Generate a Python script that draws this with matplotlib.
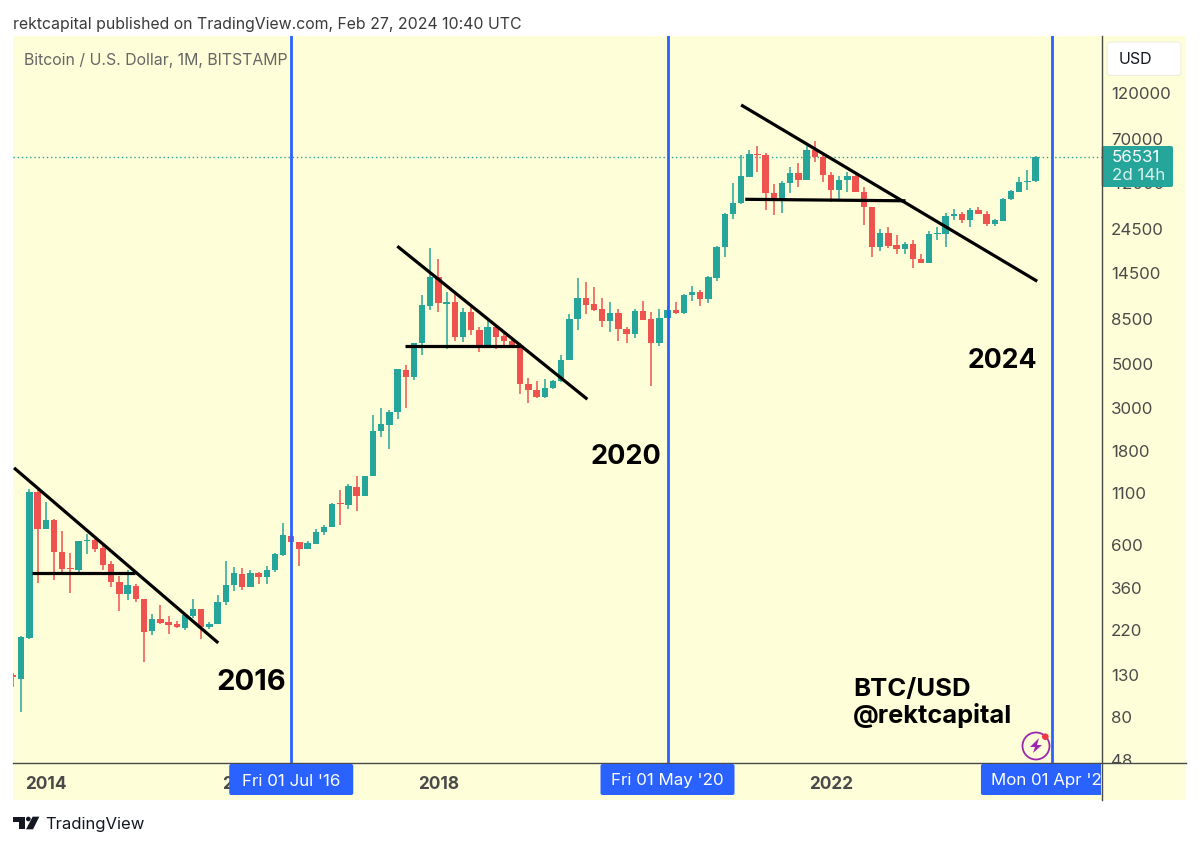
import matplotlib
matplotlib.use("Agg")
import matplotlib.pyplot as plt
from matplotlib.patches import Rectangle, FancyBboxPatch, Circle, Polygon
from matplotlib.lines import Line2D
from matplotlib.transforms import Affine2D, Bbox

# Monthly candles, Sep 2013 .. Feb 2024
first_index = -1
opens = [130,125,202,1118,725,800,550,458,445,630,638,580,478,388,338,372,319,218,252,244,236,226,260,283,229,236,308,376,428,368,433,414,445,530,668,624,570,607,700,742,975,955,1185,1070,1345,2290,2450,2835,4690,4300,6380,9900,13850,10150,10300,6850,9200,7480,6240,7700,6930,6550,6270,3980,3670,3385,3780,4090,5270,8470,10800,10150,9500,8260,9100,7520,7100,9330,8470,6400,8540,9380,9100,11300,11650,10700,13700,19700,28900,33100,45000,59000,58000,37300,34800,41600,47000,43500,61400,56900,45800,38400,43200,45200,37700,31700,19800,23200,20100,19300,20500,17100,16400,23100,23100,28400,29200,27000,30400,29200,25900,26800,34600,37700,42300,42600]
highs = [134,206,1150,1138,995,810,706,547,627,680,645,597,494,418,448,380,319,267,298,262,247,267,317,283,244,335,497,465,460,445,437,470,547,775,693,624,630,723,760,975,1138,1220,1345,1345,2750,2970,2910,4740,4970,6430,11250,19600,17200,11650,11600,9650,9900,7700,8420,7860,7250,6790,6430,4240,4090,4180,4135,5590,9000,13770,13150,12300,10900,10400,9570,7700,9570,10530,9200,9500,9950,10400,11380,12450,11980,14050,19900,29300,41900,58000,61400,64300,59500,41300,42600,50400,52900,66700,68700,59500,47500,45500,47500,47000,39800,31700,24500,25000,22650,20950,21350,18200,23700,25000,29300,30800,29900,31100,31600,30100,27500,35100,38400,44600,48900,57000]
lows = [114,85,200,383,725,398,437,340,426,540,555,445,366,276,316,307,152,209,236,210,227,220,255,198,224,236,297,350,352,366,381,378,437,525,612,470,570,607,677,742,760,918,893,1070,1345,2130,1840,2610,2985,4135,5550,9400,9200,5960,6550,6470,7050,5780,6070,5930,6070,6060,3520,3160,3340,3340,3720,4060,5230,7480,9000,9300,7700,7280,6530,6390,6810,8360,3880,6180,8540,8950,8980,10530,9870,10200,13250,17600,27400,32700,45000,47300,30600,28700,29300,37000,39800,43300,53500,42200,33300,34800,37500,37500,25400,17600,18850,19570,18130,18200,15500,16400,16400,21350,19700,27200,26000,24800,29000,25300,25100,26800,34300,37700,38400,42100]
closes = [128,204,1118,725,800,550,452,450,627,638,575,475,388,338,376,318,216,252,240,235,228,263,283,228,236,308,376,430,366,433,414,448,537,675,620,570,610,700,742,965,965,1195,1070,1345,2290,2465,2850,4720,4300,6380,9950,13850,10200,10300,6850,9200,7480,6240,7700,6880,6560,6240,3980,3670,3385,3780,4090,5270,8470,10800,10000,9470,8260,9100,7520,7100,9330,8420,6400,8600,9400,9100,11300,11600,10700,13800,19700,29000,33000,45200,59000,58000,37300,34800,41800,47000,43500,61400,56900,45800,38400,43200,45200,37500,31500,19800,23200,19900,19300,20500,17050,16400,23100,23300,28400,29100,27000,30400,29000,25900,27000,34700,37900,42300,42800,56531]

price_ticks = [120000,70000,42000,24500,14500,8500,5000,3000,1800,1100,600,360,220,130,80,48]
year_positions = [3,27,51,75,99,123]
year_labels = ["2014","2016","2018","2020","2022","2024"]
halving_positions = [33,79,126]
halving_labels = ["Fri 01 Jul '16","Fri 01 May '20","Mon 01 Apr '24"]
last_price = 56531

trend_lines = [([-0.89,24.08],[1480,190]),([45.97,69.2],[19900,3310]),([88,124.2],[104300,13200])]
neck_lines = [([1.35,13.9],[434,434]),([46.9,61],[6150,6150]),([88.5,108.1],[34500,33900])]

UP, DOWN, BLUE, PANE, GREY = "#26A69A", "#EF5350", "#2962FF", "#FEFED8", "#4A4A4A"
plt.rcParams['font.family'] = ['Inter', 'DejaVu Sans']

fig = plt.figure(figsize=(12, 8.47), dpi=100, facecolor="white")
P = Affine2D().scale(1/1200, -1/847).translate(0, 1) + fig.transFigure

fig.add_artist(Rectangle((13, 36), 1173, 764, transform=P, fc=PANE, ec="none", zorder=-1))
ax = fig.add_axes([13/1200, (847-763)/847, (1101.7-13)/1200, (763-36)/847])
ax.set_facecolor(PANE)
for s in ax.spines.values():
    s.set_visible(False)

ax.set_yscale("log")
ax.set_xlim(-1.015, 132.08)
ax.set_ylim(46.5, 234100)

xs = [first_index + k for k in range(len(opens))]
colors = [UP if c >= o else DOWN for o, c in zip(opens, closes)]
ax.axhline(last_price, color=UP, lw=1, linestyle=(0, (1, 2)), zorder=1)
ax.vlines(xs, lows, highs, colors=colors, lw=1.1, zorder=2)
ax.bar(xs, [abs(c-o) for o, c in zip(opens, closes)], bottom=[min(o, c) for o, c in zip(opens, closes)],
       width=0.78, color=colors, linewidth=0, zorder=3)

for lx, ly in trend_lines + neck_lines:
    ax.plot(lx, ly, color="black", lw=2.3, zorder=4, solid_capstyle="butt")
for x in halving_positions:
    ax.axvline(x, color=BLUE, lw=2.0, zorder=5)

ax.yaxis.tick_right()
ax.set_yticks(price_ticks, [str(v) for v in price_ticks])
ax.set_xticks(year_positions, year_labels)
ax.minorticks_off()
ax.tick_params(axis="y", length=0, pad=6.8, labelsize=12.2, labelcolor=GREY)
ax.tick_params(axis="x", length=0, pad=9.5, labelsize=12.4, labelcolor=GREY)
for t in ax.get_xticklabels():
    t.set_fontweight("bold")
clip = Bbox([[0, 847-763], [1200, 847]])
for t in ax.yaxis.get_major_ticks():
    t.label2.set_clip_on(True)
    t.label2.set_clip_box(clip)

# axis rules
fig.add_artist(Line2D([13, 1186], [763, 763], transform=P, color=GREY, lw=1, zorder=3))
fig.add_artist(Line2D([1101.7, 1101.7], [36, 800], transform=P, color=GREY, lw=1, zorder=8))

# crosshair date labels
pane_clip = Bbox([[13, 0], [1101.2, 847]])
for x, label in zip(halving_positions, halving_labels):
    cx = ax.transData.transform((x, 1000))[0]
    half = 62 if x != 126 else 71
    if x == 79:
        half = 67
    b = FancyBboxPatch((cx-half, 764), 2*half, 31, boxstyle="round,pad=0,rounding_size=2",
                       transform=P, fc=BLUE, ec="none", zorder=6)
    fig.add_artist(b)
    b.set_clip_on(True); b.set_clip_box(pane_clip)
    t = fig.text(cx, 781, label, transform=P, color="white", fontsize=12.2, ha="center", va="center", zorder=7)
    t.set_clip_on(True); t.set_clip_box(pane_clip)

# price label
fig.add_artist(FancyBboxPatch((1101.7, 146), 71.3, 41, boxstyle="round,pad=0,rounding_size=2",
                              transform=P, fc=UP, ec="none", zorder=6))
fig.text(1112, 157.5, "56531", transform=P, color="white", fontsize=12.2, va="center", zorder=7)
fig.text(1112, 176, "2d 14h", transform=P, color="#D9F2EE", fontsize=12.2, va="center", zorder=7)

# USD button
fig.add_artist(FancyBboxPatch((1107, 42), 74, 33.5, boxstyle="round,pad=0,rounding_size=4",
                              transform=P, fc="white", ec="#EEEEE0", lw=0.8, zorder=6))
fig.text(1119, 59, "USD", transform=P, color="#131722", fontsize=11.5, va="center", zorder=7)

# header / captions
fig.text(13, 24, "rektcapital published on TradingView.com, Feb 27, 2024 10:40 UTC", transform=P,
         color="#3A3A3A", fontsize=11.4, va="center")
fig.text(24, 60, "Bitcoin / U.S. Dollar, 1M, BITSTAMP", transform=P, color="#666666", fontsize=11.4, va="center", zorder=7)
for s, x, y, size in [("2016", 216, 682, 21), ("2020", 591, 456.5, 19.5), ("2024", 968, 361.5, 19.2)]:
    fig.text(x, y, s, transform=P, color="black", fontsize=size, fontweight="bold", va="center", zorder=7)
fig.text(853, 689.5, "BTC/USD", transform=P, color="black", fontsize=18.5, fontweight="bold", va="center", zorder=7)
fig.text(853, 715.5, "@rektcapital", transform=P, color="black", fontsize=18.3, fontweight="bold", va="center", zorder=7)

# bolt icon
fig.add_artist(Circle((1036, 746), 13.5, transform=P, fc="none", ec="#9C27B0", lw=1.3, zorder=7))
fig.add_artist(Polygon([(1039, 738), (1030, 747), (1035, 747), (1033, 753), (1042, 745), (1037, 745)],
                       closed=True, transform=P, fc="#9C27B0", ec="none", zorder=7))
fig.add_artist(Circle((1045.3, 736.7), 3.3, transform=P, fc="#F23645", ec="none", zorder=8))

# TradingView logo
def zp(pts):
    return [(x/3, 720+y/3) for x, y in pts]
fig.add_artist(Polygon(zp([(39,290),(76,290),(76,328),(56,328),(56,305),(39,305)]), closed=True, transform=P, fc="#131722", ec="none"))
fig.add_artist(Circle((85/3, 720+297/3), 7/3, transform=P, fc="#131722", ec="none"))
fig.add_artist(Polygon(zp([(98,290),(118,290),(99,328),(78,328)]), closed=True, transform=P, fc="#131722", ec="none"))
fig.text(45, 824, "TradingView", transform=P, color="#131722", fontsize=12, va="center")

fig.savefig("out.png", dpi=100, facecolor="white")
